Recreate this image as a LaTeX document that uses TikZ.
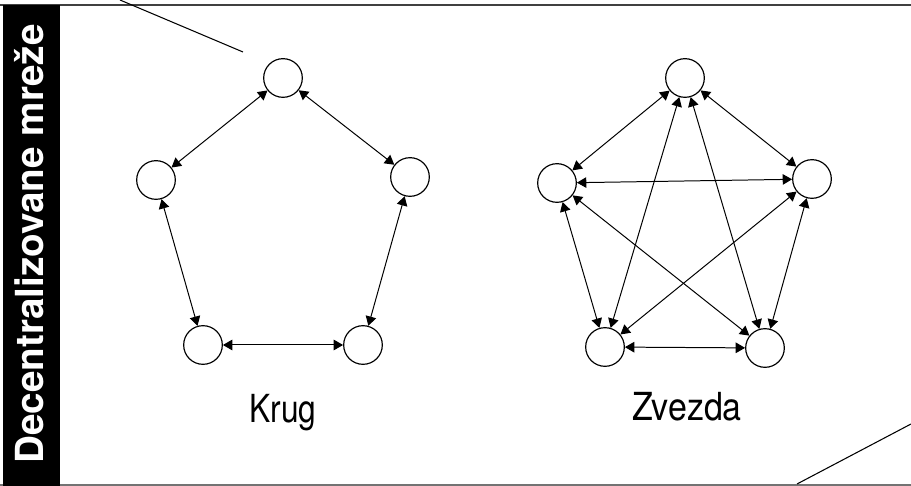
\documentclass[tikz,border=0pt]{standalone}
\usepackage{fontspec}
\setmainfont{TeX Gyre Heros}
\usepackage{graphicx}
\usepackage{tikz}
\usetikzlibrary{calc, arrows.meta}

\tikzset{
    peer/.style={circle, draw=black, line width=1pt, minimum size=1.16cm, inner sep=0pt},
    link/.style={{Triangle[length=8pt,width=9pt]}-{Triangle[length=8pt,width=9pt]}, line width=0.85pt}
}

\begin{document}
\begin{tikzpicture}[x=0.03cm, y=-0.03cm]

        \useasboundingbox (0,0) rectangle (911,486);

        %% Frame
        \draw [black!75, line width=1.2pt] (0,5) -- (911,5);
        \draw [black!55, line width=1pt] (0,485) -- (911,485);
        \fill [black] (3,5) rectangle (60,486);
        \node (title) [anchor=base, rotate=90, text=white, inner sep=0pt] at (43,244) {\fontsize{33}{33}\selectfont\textbf{Decentralizovane mreže}};

        %% Diagonal lines
        \coordinate (topStart) at (120,0);
        \coordinate (topEnd) at (243,52);
        \coordinate (botStart) at (797,484);
        \coordinate (botEnd) at (911,424);
        \draw [line width=0.9pt] (topStart) -- (topEnd);
        \draw [line width=0.9pt] (botStart) -- (botEnd);

        %% Krug
        \node (krugTop) [peer] at (283,78) {};
        \node (krugLeft) [peer] at (156,180) {};
        \node (krugRight) [peer] at (410,177) {};
        \node (krugBotLeft) [peer] at (203,345) {};
        \node (krugBotRight) [peer] at (363,345) {};
        \node (krug) [anchor=base, inner sep=0pt] at (283,423) {\fontsize{33}{33}\selectfont\scalebox{0.82}[1]{Krug}};

        \draw [link] (krugTop) -- (krugLeft);
        \draw [link] (krugTop) -- (krugRight);
        \draw [link] (krugLeft) -- (krugBotLeft);
        \draw [link] (krugRight) -- (krugBotRight);
        \draw [link] (krugBotLeft) -- (krugBotRight);

        %% Zvezda
        \node (zvezdaTop) [peer] at (685,78) {};
        \node (zvezdaLeft) [peer] at (557,183) {};
        \node (zvezdaRight) [peer] at (812,179) {};
        \node (zvezdaBotLeft) [peer] at (605,347) {};
        \node (zvezdaBotRight) [peer] at (765,348) {};
        \node (zvezda) [anchor=base, inner sep=0pt] at (687,421) {\fontsize{33}{33}\selectfont\scalebox{0.88}[1]{Zvezda}};

        \draw [link] (zvezdaTop) -- (zvezdaLeft);
        \draw [link] (zvezdaTop) -- (zvezdaRight);
        \draw [link] (zvezdaTop) -- (zvezdaBotLeft);
        \draw [link] (zvezdaTop) -- (zvezdaBotRight);
        \draw [link] (zvezdaLeft) -- (zvezdaRight);
        \draw [link] (zvezdaLeft) -- (zvezdaBotLeft);
        \draw [link] (zvezdaLeft) -- (zvezdaBotRight);
        \draw [link] (zvezdaRight) -- (zvezdaBotLeft);
        \draw [link] (zvezdaRight) -- (zvezdaBotRight);
        \draw [link] (zvezdaBotLeft) -- (zvezdaBotRight);

    \end{tikzpicture}
\end{document}
